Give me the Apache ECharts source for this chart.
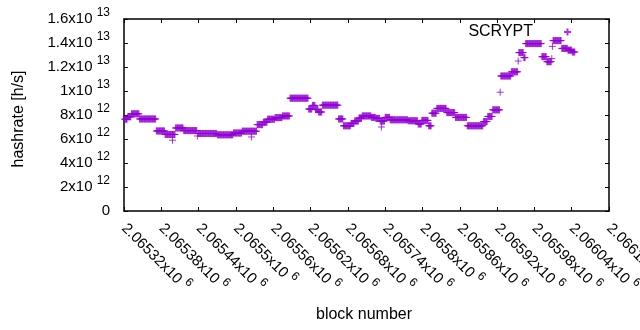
<!DOCTYPE html>
<html>
<head>
<meta charset="utf-8">
<script src="https://cdn.jsdelivr.net/npm/echarts@6/dist/echarts.min.js"></script>
<style>
    html, body { margin: 0; padding: 0; background: #fff; }
    #main { width: 640px; height: 330px; }
</style>
</head>
<body>
<div id="main"></div>
<script>
// hashrate is constant over runs of blocks, each run ends at runEnd (inclusive)
var firstBlock = 2065321;
var runEnd = [
    2065325, 2065331, 2065344, 2065371, 2065385, 2065402, 2065415, 2065437, 2065438, 2065469,
    2065495, 2065509, 2065533, 2065543, 2065550, 2065562, 2065574, 2065586, 2065616, 2065622,
    2065627, 2065632, 2065638, 2065664, 2065672, 2065684, 2065690, 2065697, 2065702, 2065717,
    2065724, 2065731, 2065739, 2065747, 2065776, 2065792, 2065798, 2065809, 2065814, 2065822,
    2065838, 2065852, 2065871, 2065897, 2065904, 2065912, 2065924, 2065925, 2065942, 2065953,
    2065954, 2065962, 2065965, 2065991, 2065999, 2066007, 2066008, 2066009, 2066023, 2066033,
    2066040, 2066045
];
// value of each run, x10^12 h/s
var runHash = [
    7.65, 7.85, 8.1, 7.67, 6.67, 6.38, 6.92, 6.7, 6.25, 6.46,
    6.35, 6.5, 6.65, 7.2, 7.4, 7.65, 7.78, 7.92, 9.4, 8.5,
    8.8, 8.45, 8.25, 8.82, 7.67, 7.1, 7.3, 7.5, 7.75, 7.92,
    7.8, 7.72, 7.5, 7.8, 7.6, 7.52, 7.25, 7.55, 7.1, 8.15,
    8.55, 8.2, 7.8, 7.1, 7.45, 7.88, 8.43, 9.9, 11.25, 11.6,
    12.5, 13.2, 12.78, 13.95, 12.86, 12.44, 12.7, 13.72, 14.2, 13.55,
    13.4, 13.25
];
// odd single blocks off their run
var spikeBlock = [2065398, 2065525, 2065734];
var spikeHash = [5.9, 6.17, 7.0];

// axis ranges
var blockMin = 2065320, blockMax = 2066100, blockStep = 60;
var hashMax = 1.6e13, hashStep = 2e12;

var seriesName = 'SCRYPT';
var plusPath = 'path://M0,3.5L7,3.5M3.5,0L3.5,7';

function buildPoints() {
    var pts = [];
    var b = firstBlock;
    runEnd.forEach(function (end, i) {
        for (; b <= end; b++) {
            pts.push([b, runHash[i] * 1e12]);
        }
    });
    spikeBlock.forEach(function (blk, i) {
        pts.push([blk, spikeHash[i] * 1e12]);
    });
    return pts;
}

// gnuplot style "1.6x10^13"
function hashLabel(v) {
    if (v === 0) return '{b|0}';
    var e = Math.floor(Math.log10(v) + 1e-9);
    var m = parseFloat((v / Math.pow(10, e)).toFixed(1));
    return '{b|' + m + 'x10 }{s|' + e + '}';
}

function blockLabel(v) {
    return '{b|' + parseFloat((v / 1e6).toFixed(5)) + 'x10 }{s|6}';
}

var richText = {
    b: { fontSize: 15, fontFamily: 'Liberation Sans', color: '#000', lineHeight: 15 },
    s: { fontSize: 12, fontFamily: 'Liberation Sans', color: '#000', lineHeight: 12, padding: [0, 0, 12, 0] }
};

// border of the plot: every axis draws its own line, ticks point inwards
function frameLine() {
    return { show: true, onZero: false, lineStyle: { color: '#000', width: 1.5 } };
}
function innerTick() {
    return { show: true, inside: true, length: 4, lineStyle: { color: '#000', width: 1 } };
}

var chartDom = document.getElementById('main');
var myChart = echarts.init(chartDom);
var option = {
    animation: false,
    textStyle: { fontFamily: 'Liberation Sans' },
    grid: {
        left: 124, right: 31, top: 19, bottom: 119,
        outerBoundsMode: 'none'
    },
    legend: {
        data: [seriesName],
        align: 'right',
        right: 68,
        top: 24,
        padding: 0,
        itemWidth: 7,
        itemHeight: 7,
        icon: plusPath,
        textStyle: { fontSize: 16, color: '#000', padding: [0, 26, 0, 0] }
    },
    xAxis: [{
        type: 'value',
        min: blockMin, max: blockMax, interval: blockStep,
        name: 'block number',
        nameLocation: 'middle',
        nameGap: 96,
        nameTextStyle: { fontSize: 16, color: '#000', padding: [0, 5, 0, 0] },
        axisLine: frameLine(),
        axisTick: innerTick(),
        splitLine: { show: false },
        axisLabel: {
            rotate: -45, margin: 15, showMaxLabel: true, showMinLabel: true,
            formatter: blockLabel, rich: richText
        }
    }, {
        type: 'value', position: 'top',
        min: blockMin, max: blockMax, interval: blockStep,
        axisLine: frameLine(),
        axisTick: innerTick(),
        splitLine: { show: false },
        axisLabel: { show: false }
    }],
    yAxis: [{
        type: 'value',
        min: 0, max: hashMax, interval: hashStep,
        name: 'hashrate [h/s]',
        nameLocation: 'middle',
        nameRotate: 90,
        nameGap: 97,
        nameTextStyle: { fontSize: 16, color: '#000', padding: [0, 8, 0, 0] },
        axisLine: frameLine(),
        axisTick: innerTick(),
        splitLine: { show: false },
        axisLabel: { margin: 14, formatter: hashLabel, rich: richText }
    }, {
        type: 'value', position: 'right',
        min: 0, max: hashMax, interval: hashStep,
        axisLine: frameLine(),
        axisTick: innerTick(),
        splitLine: { show: false },
        axisLabel: { show: false }
    }],
    series: [{
        name: seriesName,
        type: 'scatter',
        symbol: plusPath,
        symbolSize: 7,
        progressive: 0,
        itemStyle: { color: 'transparent', borderColor: '#9400d3', borderWidth: 1 },
        data: buildPoints()
    }]
};

myChart.setOption(option);
</script>
</body>
</html>
